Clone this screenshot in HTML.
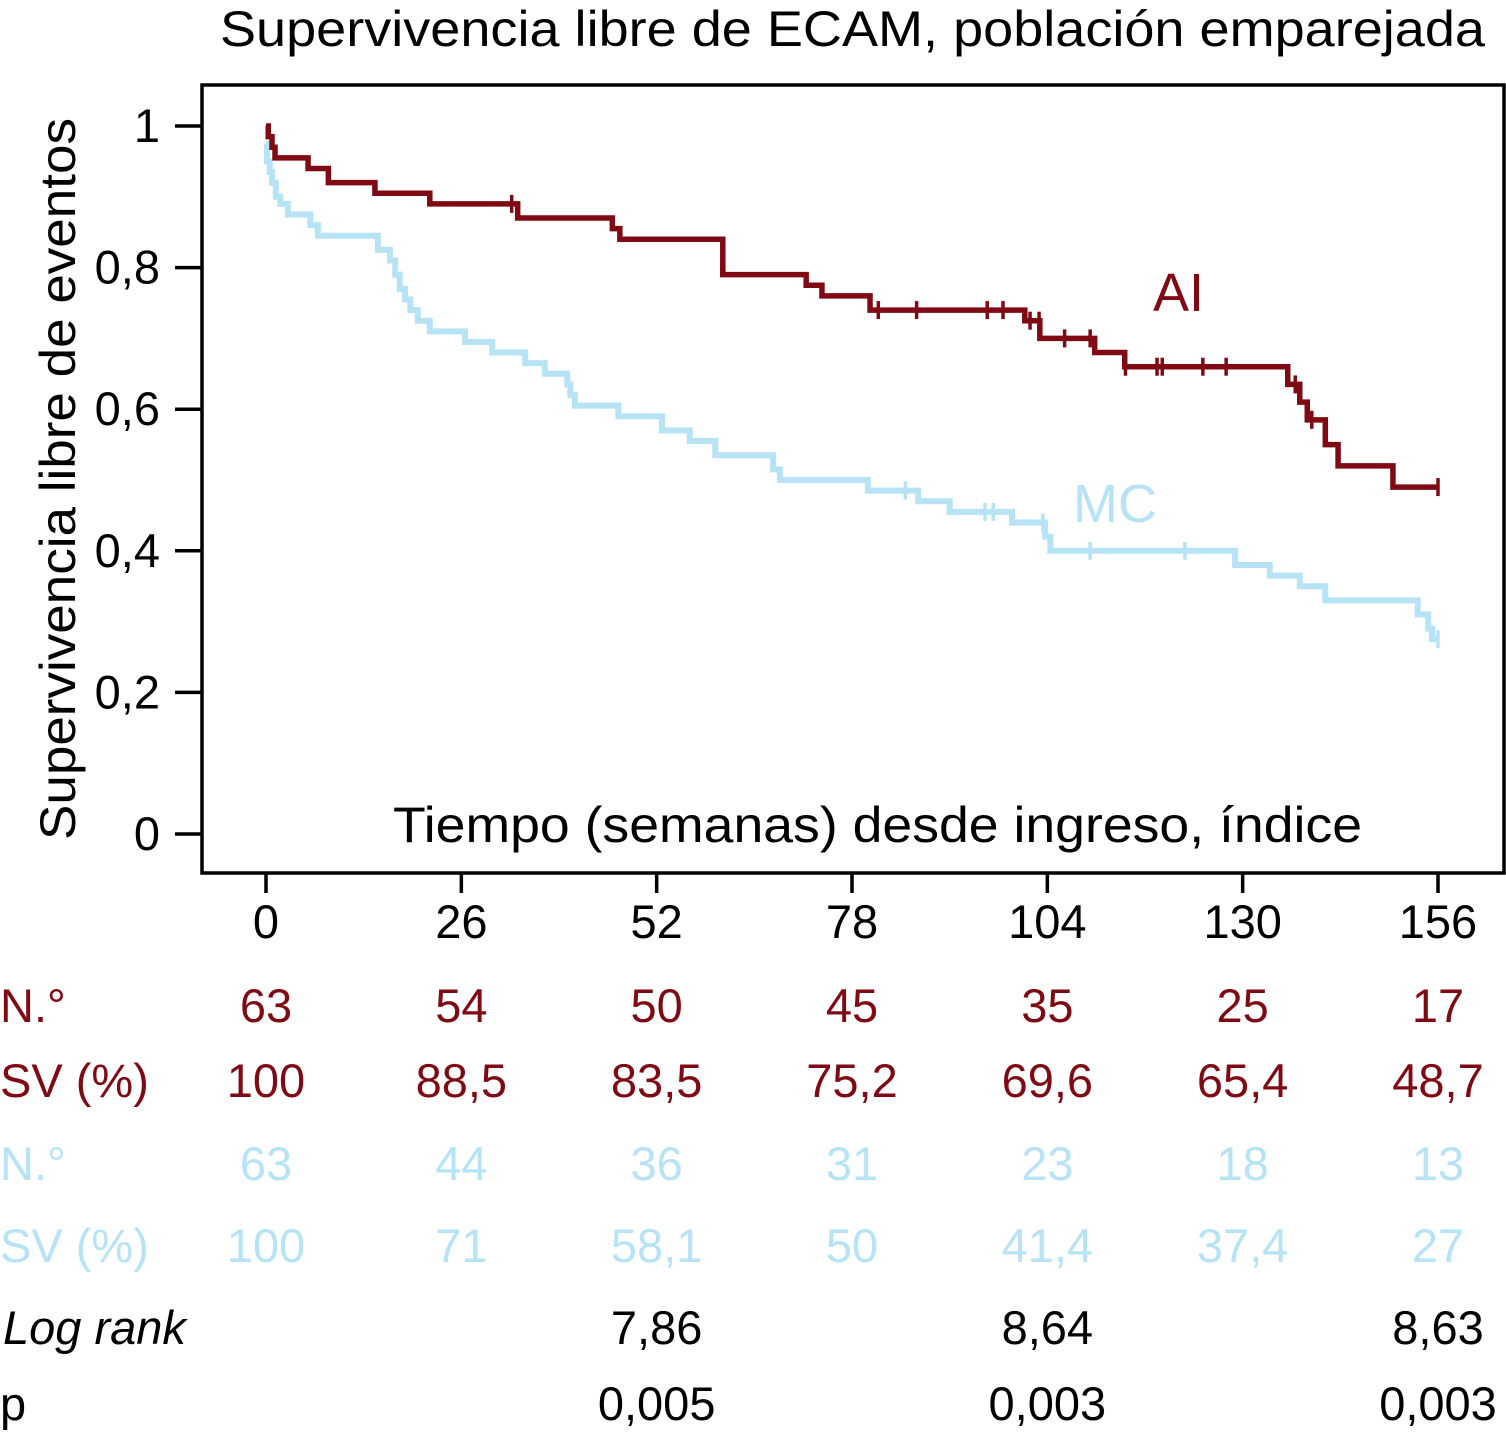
<!DOCTYPE html>
<html><head><meta charset="utf-8"><style>
html,body{margin:0;padding:0;background:#fff}
svg{display:block;font-family:"Liberation Sans",Arial,sans-serif}
</style></head><body>
<svg id="chart" width="1506" height="1432" viewBox="0 0 1506 1432" xmlns="http://www.w3.org/2000/svg">
<text x="220" y="46" font-size="50" textLength="1265" lengthAdjust="spacingAndGlyphs">Supervivencia libre de ECAM, población emparejada</text>
<rect x="202" y="85" width="1302" height="788" fill="none" stroke="#000" stroke-width="3.5"/>
<text transform="translate(75,840) rotate(-90)" font-size="50" textLength="722" lengthAdjust="spacingAndGlyphs">Supervivencia libre de eventos</text>
<text x="393" y="842" font-size="50" textLength="969" lengthAdjust="spacingAndGlyphs">Tiempo (semanas) desde ingreso, índice</text>
<g id="axes"></g>
<g id="series"></g>
<text x="1153" y="311" font-size="54" fill="#7f0a14">AI</text>
<text x="1073" y="522" font-size="54" fill="#b7e3f6">MC</text>
<g id="table"></g>
</svg>
<script>
const xTicks=[0,26,52,78,104,130,156];
const yTicks=[0,0.2,0.4,0.6,0.8,1];
const yTickLabels=["0","0,2","0,4","0,6","0,8","1"];
const aiTimes=[0,0.3,0.8,1.2,5.6,8.3,14.5,21.8,33.5,46.1,47.1,60.8,71.9,74.0,80.4,101.0,103.0,110.3,114.3,136.0,137.6,138.6,141.0,142.7,150.0];
const aiSurv=[1,0.985,0.97,0.955,0.94,0.92,0.905,0.89,0.87,0.855,0.84,0.79,0.775,0.76,0.74,0.725,0.70,0.68,0.66,0.635,0.61,0.585,0.55,0.52,0.49];
const aiCensor=[32.7,81.5,86.6,96.0,98.1,101.7,102.9,106.3,109.7,114.4,118.6,119.3,124.7,127.8,137.0,139.2,156];
const mcTimes=[0,0.13,0.5,0.8,1.3,1.9,2.9,5.9,6.9,14.9,16.5,17.2,17.8,18.5,19.2,20.2,21.8,26.5,30.1,34.5,37.1,40.1,40.5,41.1,46.9,52.7,56.4,59.8,67.5,68.4,80.1,86.8,91.0,99.3,103.7,104.4,129.0,133.6,137.6,141.0,153.3,154.7,155.2];
const mcSurv=[0.975,0.95,0.935,0.92,0.90,0.89,0.875,0.86,0.845,0.825,0.81,0.79,0.77,0.755,0.74,0.725,0.71,0.695,0.68,0.665,0.65,0.635,0.62,0.605,0.59,0.57,0.555,0.535,0.515,0.50,0.485,0.47,0.455,0.44,0.42,0.40,0.38,0.365,0.35,0.33,0.31,0.29,0.275];
const mcCensor=[85.1,95.7,96.8,103.4,109.7,122.3,156];
const rowLabels=["N.°","SV (%)","N.°","SV (%)"];
const aiN=["63","54","50","45","35","25","17"];
const aiSV=["100","88,5","83,5","75,2","69,6","65,4","48,7"];
const mcN=["63","44","36","31","23","18","13"];
const mcSV=["100","71","58,1","50","41,4","37,4","27"];
const logRankWeeks=[52,104,156];
const logRank=["7,86","8,64","8,63"];
const pValues=["0,005","0,003","0,003"];

const NS="http://www.w3.org/2000/svg";
const X=w=>266+w*(1438-266)/156;
const Y=s=>834-s*(834-126);
function mk(tag,attrs,parent){const e=document.createElementNS(NS,tag);for(const k in attrs)e.setAttribute(k,attrs[k]);parent.appendChild(e);return e;}
const axes=document.getElementById('axes');
xTicks.forEach(t=>{
  const l=mk('line',{x1:X(t),x2:X(t),y1:873,y2:893,stroke:'#000','stroke-width':3.5},axes);
  
  
  const tx=mk('text',{x:X(t),y:938,'font-size':47,'text-anchor':'middle'},axes);tx.textContent=t;
  
  
});
yTicks.forEach((t,i)=>{
  const l=mk('line',{x1:175,x2:202,y1:Y(t),y2:Y(t),stroke:'#000','stroke-width':3.5},axes);
  
  
  const tx=mk('text',{x:160,y:Y(t)+16,'font-size':47,'text-anchor':'end'},axes);tx.textContent=yTickLabels[i];
  
  
});
const series=document.getElementById('series');
function survAt(times,surv,t){let s=surv[0];for(let i=0;i<times.length;i++){if(times[i]<=t)s=surv[i];}return s;}
function drawSeries(times,surv,cens,color,name,w){
  let d=`M${X(times[0])},${Y(surv[0])}`;
  for(let i=1;i<times.length;i++){d+=` H${X(times[i])} V${Y(surv[i])}`;}
  d+=` H${X(156)}`;
  const p=mk('path',{d:d,fill:'none',stroke:color,'stroke-width':w},series);
  
  
  cens.forEach(c=>{
    const y=Y(survAt(times,surv,c));
    const m=mk('line',{x1:X(c),x2:X(c),y1:y-9,y2:y+9,stroke:color,'stroke-width':3.5},series);
    
    
  });
}
drawSeries(mcTimes,mcSurv,mcCensor,'#b7e3f6','mc',6);
drawSeries(aiTimes,aiSurv,aiCensor,'#7f0a14','ai',5.5);

const table=document.getElementById('table');
const red='#7f0a14',blue='#b7e3f6';
const rows=[[aiN,1022,red],[aiSV,1097,red],[mcN,1180,blue],[mcSV,1262,blue]];
rows.forEach((r,ri)=>{
  const lab=mk('text',{x:0,y:r[1],'font-size':47,fill:r[2]},table);lab.textContent=rowLabels[ri];
  
  
  r[0].forEach((v,i)=>{
    const tx=mk('text',{x:X(xTicks[i]),y:r[1],'font-size':47,'text-anchor':'middle',fill:r[2]},table);tx.textContent=v;
    
    
  });
});
const lr=mk('text',{x:3,y:1344,'font-size':47,'font-style':'italic'},table);lr.textContent='Log rank';


const pl=mk('text',{x:0,y:1420,'font-size':47},table);pl.textContent='p';


logRankWeeks.forEach((w,i)=>{
  const a=mk('text',{x:X(w),y:1344,'font-size':47,'text-anchor':'middle'},table);a.textContent=logRank[i];
  
  
  const b=mk('text',{x:X(w),y:1420,'font-size':47,'text-anchor':'middle'},table);b.textContent=pValues[i];
  
  
});
</script>
</body></html>
